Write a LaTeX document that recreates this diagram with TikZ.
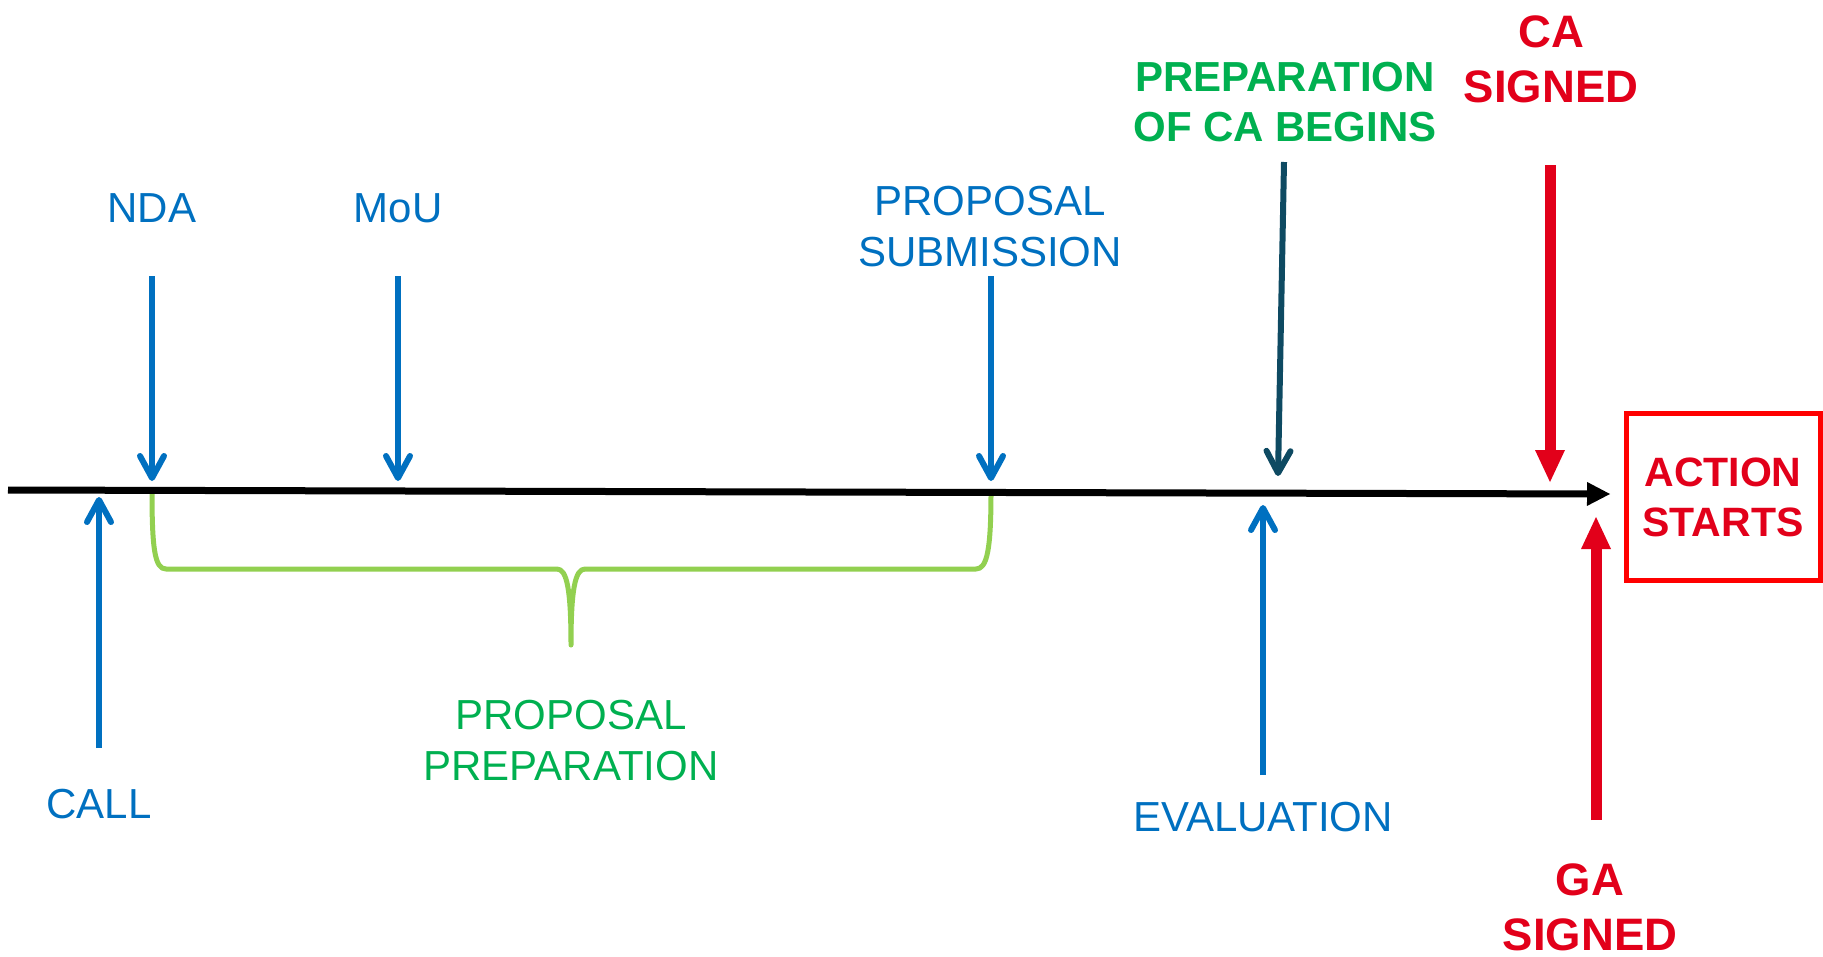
\documentclass[tikz,border=0pt]{standalone}
\usepackage{fontspec}
\setmainfont{Liberation Sans}
\usetikzlibrary{arrows.meta}
\definecolor{cblue}{HTML}{0070C0}
\definecolor{cgreen}{HTML}{00B050}
\definecolor{cbrace}{HTML}{92D050}
\definecolor{cred}{HTML}{E2001A}
\definecolor{cbox}{HTML}{FF0000}
\definecolor{cdark}{HTML}{0E4A62}
\begin{document}
\begin{tikzpicture}[x=1pt,y=-1pt,
 lbl/.style={font=\fontsize{42}{51}\selectfont, align=center, anchor=base, inner sep=0pt},
 bluelbl/.style={lbl, text=cblue},
 greenlbl/.style={lbl, text=cgreen, font=\fontsize{42}{50}\selectfont\bfseries},
 redlbl/.style={lbl, text=cred, font=\fontsize{45.5}{55}\selectfont\bfseries},
 thinarrow/.style={line width=6pt, -{Straight Barb[length=22pt,width=24pt,round]}},
 bigarrow/.style={line width=11pt, draw=cred, -{Triangle[length=32pt,width=30pt,line width=0pt]}},
 bracestyle/.style={draw=cbrace, line width=5pt, line cap=round, line join=round},
 boxstyle/.style={draw=cbox, line width=5pt, minimum width=194pt, minimum height=167pt, inner sep=0pt,
   text=cred, font=\fontsize{41}{50}\selectfont\bfseries, align=center}
]
\useasboundingbox (0,0) rectangle (1823,956);

% labels (anchor = baseline of the last line)
\node[bluelbl] (nda) at (152,222) {NDA};
\node[bluelbl] (mou) at (398,222) {MoU};
\node[bluelbl] (sub) at (990,266) {PROPOSAL\\SUBMISSION};
\node[greenlbl] (prepca) at (1285,141) {PREPARATION\\OF CA BEGINS};
\node[redlbl] (ca) at (1551,102) {CA\\SIGNED};
\node[redlbl] (ga) at (1590,950) {GA\\SIGNED};
\node[bluelbl] (eval) at (1263,831) {EVALUATION};
\node[bluelbl] (call) at (99,818) {CALL};
\node[lbl, text=cgreen] (pp) at (571,780) {PROPOSAL\\PREPARATION};
\node[boxstyle] (act) at (1723,497) {ACTION\\STARTS};

% arrow end points
\coordinate (ndaA) at (152,276);  \coordinate (ndaB) at (152,481);
\coordinate (mouA) at (398,276);  \coordinate (mouB) at (398,481);
\coordinate (subA) at (991,276);  \coordinate (subB) at (991,481);
\coordinate (callA) at (99,748);  \coordinate (callB) at (99,497);
\coordinate (evalA) at (1263,775); \coordinate (evalB) at (1263,505);
\coordinate (prepA) at (1284,162); \coordinate (prepB) at (1278,476);
\coordinate (caA) at (1550,165);  \coordinate (caB) at (1550,482);
\coordinate (gaA) at (1596,820);  \coordinate (gaB) at (1596,517);
\coordinate (axA) at (8,490);     \coordinate (axB) at (1610,494);

% brace
\draw[bracestyle] (152,492) .. controls (152,550) and (155,569) .. (166,569)
  -- (557,569) .. controls (567,569) and (571,590) .. (571,645)
  .. controls (571,590) and (575,569) .. (585,569)
  -- (976,569) .. controls (987,569) and (991,550) .. (991,492);

% axis
\draw[line width=7pt, -{Triangle[length=23pt,width=24pt,line width=0pt]}] (axA) -- (axB);

% arrows
\draw[thinarrow, cblue] (ndaA) -- (ndaB);
\draw[thinarrow, cblue] (mouA) -- (mouB);
\draw[thinarrow, cblue] (subA) -- (subB);
\draw[thinarrow, cblue] (callA) -- (callB);
\draw[thinarrow, cblue] (evalA) -- (evalB);
\draw[thinarrow, cdark] (prepA) -- (prepB);
\draw[bigarrow] (caA) -- (caB);
\draw[bigarrow] (gaA) -- (gaB);
\end{tikzpicture}
\end{document}
